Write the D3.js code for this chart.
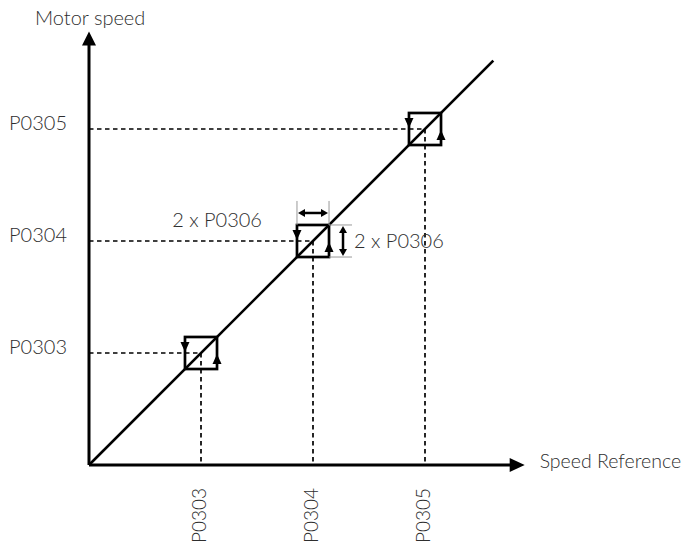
<!DOCTYPE html>
<html>
<head>
<meta charset="utf-8">
<script src="https://cdn.jsdelivr.net/npm/d3@7"></script>
<style>
    body { margin: 0; background: #fff; }
    text { font-family: Lato, "Open Sans", sans-serif; font-weight: 300; fill: #2e2e2e; }
</style>
</head>
<body>
<div id="vis"></div>
<script>
// speed levels (in reference units) and their parameter names
const levelNames = ['P0303', 'P0304', 'P0305']
const levelValues = [1, 2, 3]
// half of the hysteresis band (P0306)
const hysteresis = 0.143
const annotatedLevel = 1 // index of the level that gets the "2 x P0306" marks
const annotationText = '2 x P0306'
const axisTitles = ['Speed Reference', 'Motor speed']
const axisEnds = [3.89, 3.87]
const lineEnd = 3.61

const width = 686
const height = 545

let svg = d3.select('#vis')
    .append('svg')
    .attr('width', width)
    .attr('height', height)

let x = d3.scaleLinear().domain([0, 4]).range([89, 537])
let y = d3.scaleLinear().domain([0, 4]).range([465, 17])

// arrow head as a triangle, tip at (tx,ty), pointing along (dx,dy)
function head(tx, ty, dx, dy, len, half) {
    let bx = tx - dx * len, by = ty - dy * len
    return `M${tx},${ty}L${bx - dy * half},${by + dx * half}L${bx + dy * half},${by - dx * half}Z`
}

//dashed guide lines
let guides = svg.append('g')
    .attr('stroke', '#000')
    .attr('stroke-width', 1.7)
    .attr('stroke-dasharray', '4.5,3.5')

guides.selectAll('.hguide')
    .data(levelValues)
    .join('line')
    .attr('class', 'hguide')
    .attr('x1', x(0))
    .attr('x2', d => x(d))
    .attr('y1', d => y(d))
    .attr('y2', d => y(d))

guides.selectAll('.vguide')
    .data(levelValues)
    .join('line')
    .attr('class', 'vguide')
    .attr('x1', d => x(d))
    .attr('x2', d => x(d))
    .attr('y1', d => y(d))
    .attr('y2', y(0))

//the diagonal
svg.append('line')
    .attr('x1', x(0)).attr('y1', y(0))
    .attr('x2', x(lineEnd)).attr('y2', y(lineEnd))
    .attr('stroke', '#000')
    .attr('stroke-width', 2.6)

//hysteresis boxes
let boxes = svg.selectAll('.box')
    .data(levelValues)
    .join('g')
    .attr('class', 'box')

boxes.append('rect')
    .attr('x', d => x(d - hysteresis))
    .attr('y', d => y(d + hysteresis))
    .attr('width', d => x(d + hysteresis) - x(d - hysteresis))
    .attr('height', d => y(d - hysteresis) - y(d + hysteresis))
    .attr('fill', 'none')
    .attr('stroke', '#000')
    .attr('stroke-width', 2.7)

// going down on the left edge
boxes.append('path')
    .attr('d', d => head(x(d - hysteresis), y(d) - 1, 0, 1, 10, 4.5))
    .attr('fill', '#000')

// going up on the right edge
boxes.append('path')
    .attr('d', d => head(x(d + hysteresis), y(d) + 1, 0, -1, 10, 4.5))
    .attr('fill', '#000')

//axes
svg.append('line')
    .attr('x1', x(0)).attr('y1', y(0))
    .attr('x2', x(axisEnds[0]) - 12).attr('y2', y(0))
    .attr('stroke', '#000').attr('stroke-width', 3)
svg.append('path')
    .attr('d', head(x(axisEnds[0]), y(0), 1, 0, 15, 7))
    .attr('fill', '#000')

svg.append('line')
    .attr('x1', x(0)).attr('y1', y(0))
    .attr('x2', x(0)).attr('y2', y(axisEnds[1]) + 12)
    .attr('stroke', '#000').attr('stroke-width', 3)
svg.append('path')
    .attr('d', head(x(0), y(axisEnds[1]), 0, -1, 14, 7))
    .attr('fill', '#000')

svg.append('text')
    .attr('x', x(axisEnds[0]) + 15)
    .attr('y', y(0) + 3)
    .style('font-size', '19.5px')
    .text(axisTitles[0])

svg.append('text')
    .attr('x', x(0) - 54)
    .attr('y', y(axisEnds[1]) - 7)
    .style('font-size', '20px')
    .text(axisTitles[1])

//level labels
svg.selectAll('.ylabel')
    .data(levelNames)
    .join('text')
    .attr('class', 'ylabel')
    .attr('x', x(0) - 22)
    .attr('y', (d, i) => y(levelValues[i]) + 1)
    .attr('text-anchor', 'end')
    .style('font-size', '20px')
    .text(d => d)

svg.selectAll('.xlabel')
    .data(levelNames)
    .join('text')
    .attr('class', 'xlabel')
    .attr('transform', (d, i) => `translate(${x(levelValues[i]) + 5},${y(0) + 23}) rotate(-90)`)
    .attr('text-anchor', 'end')
    .style('font-size', '19px')
    .text(d => d)

//P0306 annotation on the middle box
let lv = levelValues[annotatedLevel]
let boxLeft = x(lv - hysteresis), boxRight = x(lv + hysteresis)
let boxTop = y(lv + hysteresis), boxBottom = y(lv - hysteresis)
let note = svg.append('g')

note.selectAll('.ext-v')
    .data([boxLeft, boxRight])
    .join('line')
    .attr('x1', d => d).attr('x2', d => d)
    .attr('y1', boxTop).attr('y2', boxTop - 24)
    .attr('stroke', '#999').attr('stroke-width', 1)

note.selectAll('.ext-h')
    .data([boxTop, boxBottom])
    .join('line')
    .attr('x1', boxRight).attr('x2', boxRight + 23)
    .attr('y1', d => d).attr('y2', d => d)
    .attr('stroke', '#999').attr('stroke-width', 1)

let ay = boxTop - 12
note.append('line')
    .attr('x1', boxLeft + 5).attr('x2', boxRight - 5)
    .attr('y1', ay).attr('y2', ay)
    .attr('stroke', '#000').attr('stroke-width', 2.5)
note.append('path').attr('d', head(boxLeft + 1, ay, -1, 0, 7, 4)).attr('fill', '#000')
note.append('path').attr('d', head(boxRight - 1, ay, 1, 0, 7, 4)).attr('fill', '#000')

let ax = boxRight + 14
note.append('line')
    .attr('x1', ax).attr('x2', ax)
    .attr('y1', boxTop + 5).attr('y2', boxBottom - 5)
    .attr('stroke', '#000').attr('stroke-width', 2.5)
note.append('path').attr('d', head(ax, boxTop + 1, 0, -1, 7, 4)).attr('fill', '#000')
note.append('path').attr('d', head(ax, boxBottom - 1, 0, 1, 7, 4)).attr('fill', '#000')

note.append('text')
    .attr('x', boxLeft - 35)
    .attr('y', boxTop + 2)
    .attr('text-anchor', 'end')
    .style('font-size', '20px')
    .text(annotationText)

note.append('text')
    .attr('x', boxRight + 25)
    .attr('y', y(lv) + 7)
    .style('font-size', '20px')
    .text(annotationText)
</script>
</body>
</html>
